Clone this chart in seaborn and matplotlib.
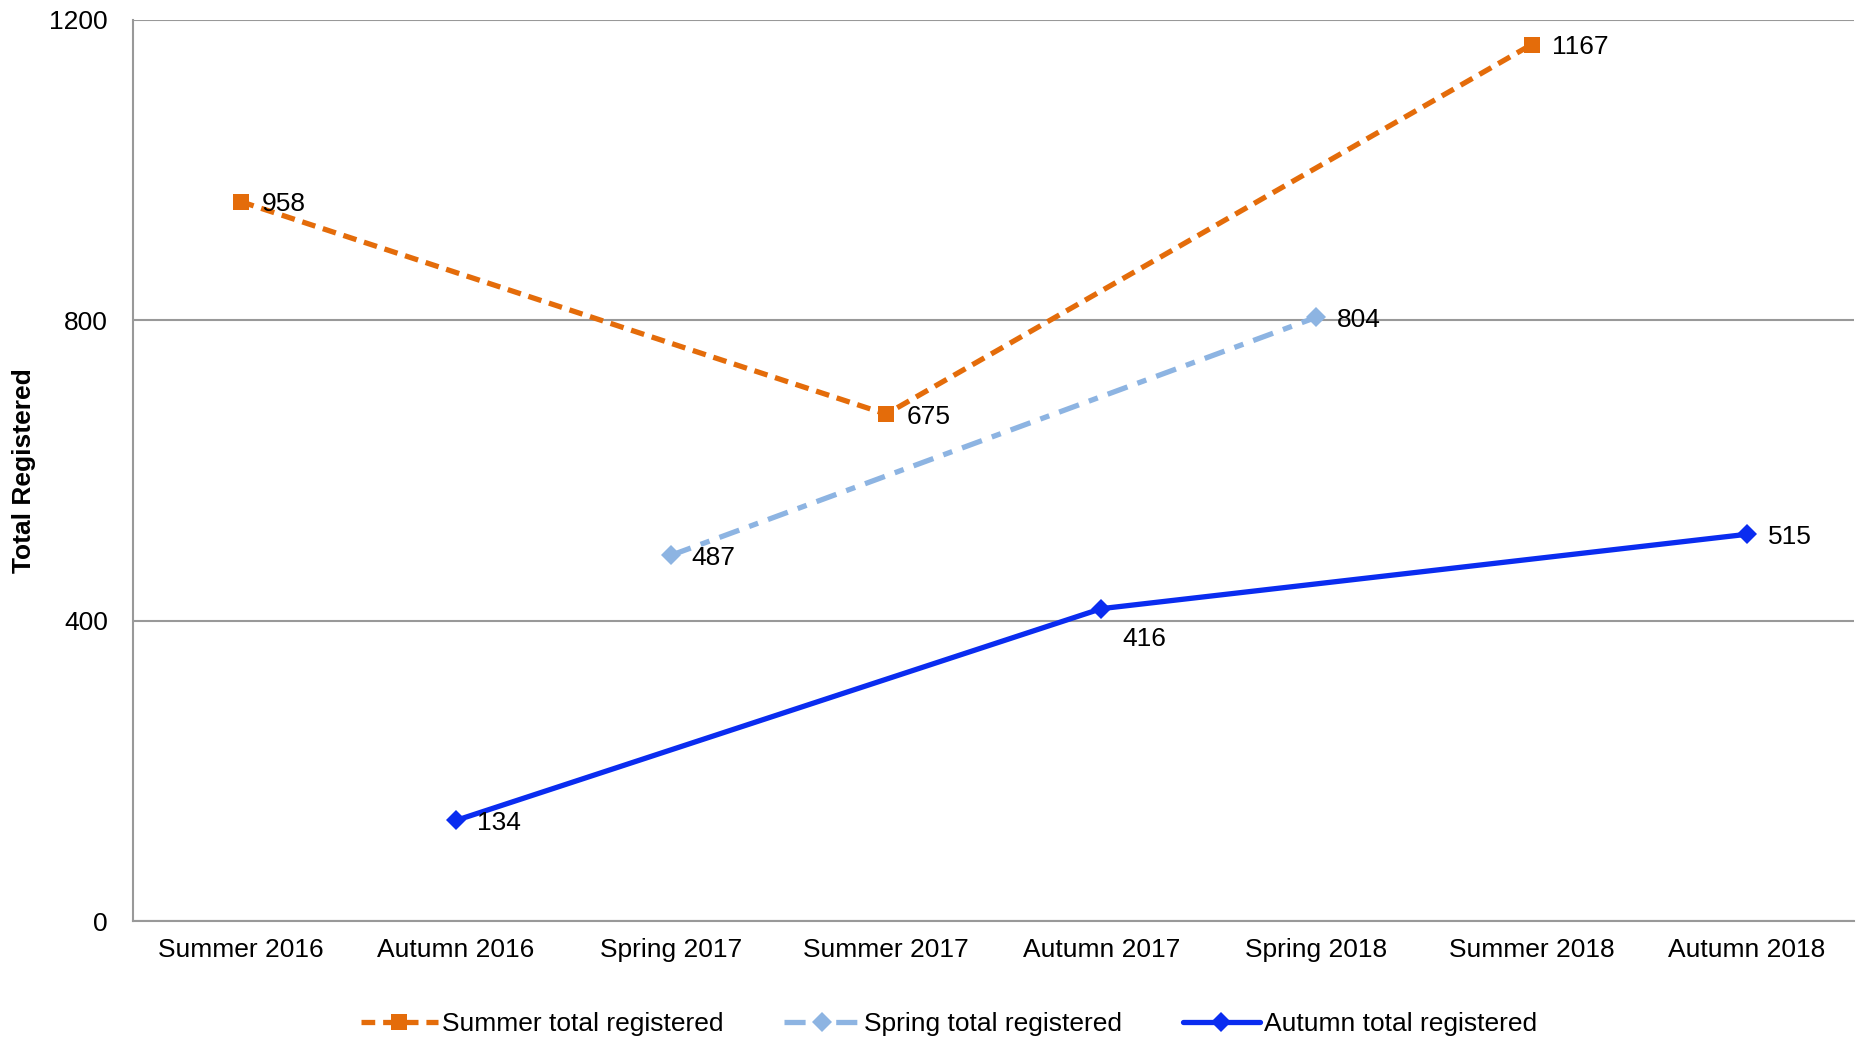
import numpy as np
import pandas as pd
import seaborn as sns
import matplotlib.pyplot as plt

# 数据
terms = ['Summer 2016', 'Autumn 2016', 'Spring 2017', 'Summer 2017',
         'Autumn 2017', 'Spring 2018', 'Summer 2018', 'Autumn 2018']
summer_terms = ['Summer 2016', 'Summer 2017', 'Summer 2018']
summer_vals = [958, 675, 1167]
spring_terms = ['Spring 2017', 'Spring 2018']
spring_vals = [487, 804]
autumn_terms = ['Autumn 2016', 'Autumn 2017', 'Autumn 2018']
autumn_vals = [134, 416, 515]

sns.set_theme(style='white')
plt.rcParams['font.family'] = ['Liberation Sans', 'DejaVu Sans']
plt.rcParams['text.color'] = 'black'
plt.rcParams['xtick.color'] = 'black'
plt.rcParams['ytick.color'] = 'black'
plt.rcParams['axes.labelcolor'] = 'black'

fig = plt.figure(figsize=(18.58, 10.42), dpi=100)
ax = fig.add_axes([0.0716, 0.116, 0.9264, 0.865])

series = [
    ('Summer total registered', summer_terms, summer_vals, '#E46C0A', 's', 11, (2.6, 1.5)),
    ('Spring total registered', spring_terms, spring_vals, '#8DB4E2', 'D', 10, (4, 2, 1.8, 2)),
    ('Autumn total registered', autumn_terms, autumn_vals, '#0A2CF0', 'D', 10, None),
]

for name, t, v, col, mk, ms, dash in series:
    d = pd.DataFrame({'x': [terms.index(s) for s in t], 'y': v})
    kw = dict(dashes=dash) if dash else {}
    sns.lineplot(data=d, x='x', y='y', ax=ax, color=col, marker=mk, markersize=ms,
                 markeredgewidth=0, linewidth=3.8, label=name, **kw)
    if not dash:
        ax.lines[-1].set_linestyle('-')

# 数据标签
label_off = {416: (15, -22)}
for name, t, v, col, mk, ms, dash in series:
    for s, val in zip(t, v):
        dx, dy = label_off.get(val, (15, -2))
        ax.annotate(str(val), (terms.index(s), val), xytext=(dx, dy),
                    textcoords='offset points', fontsize=19, color='black',
                    ha='left', va='center')

ax.set_xlim(-0.5, len(terms) - 0.5)
ax.set_ylim(0, 1200)
ax.set_yticks([0, 400, 800, 1200])
ax.set_xticks(range(len(terms)))
ax.set_xticklabels(terms, fontsize=19)
ax.set_xticks(np.arange(-0.5, len(terms), 1), minor=True)
ax.tick_params(axis='x', which='major', length=0, pad=12)
ax.tick_params(axis='x', which='minor', length=8, width=1.5, color='#999999', direction='out')
ax.tick_params(axis='y', length=8, width=1.5, color='#999999', direction='out', labelsize=19, pad=10)
ax.yaxis.grid(True, color='#999999', linewidth=1.5)
ax.set_axisbelow(True)
for sp in ['top', 'right']:
    ax.spines[sp].set_visible(False)
for sp in ['left', 'bottom']:
    ax.spines[sp].set_color('#999999')
    ax.spines[sp].set_linewidth(1.5)
ax.set_xlabel('')
ax.set_ylabel('Total Registered', fontsize=19, fontweight='bold', labelpad=10)

ax.legend(loc='upper center', bbox_to_anchor=(0.474, -0.075), ncol=3, frameon=False,
          fontsize=19, handlelength=2.9, columnspacing=2.3, handletextpad=0.15)

fig.savefig('out.png', dpi=100)
